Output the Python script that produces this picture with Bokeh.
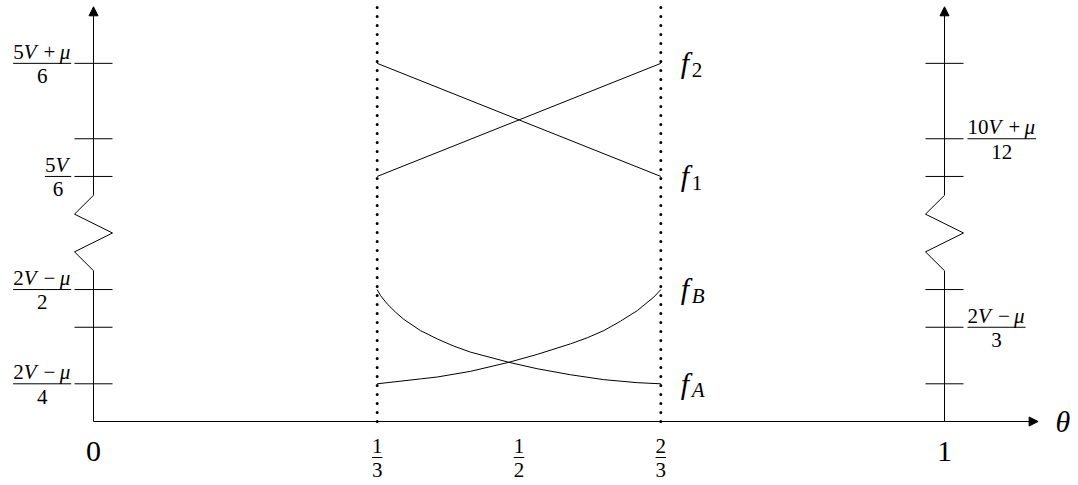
from bokeh.plotting import figure
from bokeh.models import Range1d, Arrow, NormalHead, ColumnDataSource
from bokeh.embed import file_html
from bokeh.resources import INLINE
from bokeh.core.properties import value, field

# ---------------- data ----------------
theta_marks = [0.0, 1/3, 1/2, 2/3, 1.0]
theta_num = ["0", "1", "1", "2", "1"]
theta_den = ["", "3", "2", "3", ""]
regime_bounds = [1/3, 2/3]
axis_theta = [0.0, 1.0]

tick_levels = [1.0, 2.5, 3.5, 6.5, 7.5, 9.5]
left_levels = [9.5, 6.5, 3.5, 1.0]
left_num = ["5V+μ", "5V", "2V−μ", "2V−μ"]
left_den = ["6", "6", "2", "4"]
right_levels = [7.5, 2.5]
right_num = ["10V+μ", "2V−μ"]
right_den = ["12", "3"]
break_levels = [4.0, 4.5, 5.0, 5.5, 6.0]
break_side = [0, -1, 1, -1, 0]
axis_top = 11.0
theta_end = 1.11

line_theta = [1/3, 2/3]
f1 = [9.5, 6.5]
f2 = [6.5, 9.5]
fA_theta = [0.3333, 0.3373, 0.3451, 0.3549, 0.3646, 0.3843, 0.4039, 0.4234,
            0.4430, 0.4880, 0.5214, 0.5605, 0.5996, 0.6389, 0.6667]
fA = [3.50, 3.34, 3.12, 2.90, 2.71, 2.41, 2.19, 2.00,
      1.84, 1.57, 1.40, 1.24, 1.11, 1.03, 1.00]
fB_theta = [0.3333, 0.3843, 0.4039, 0.4430, 0.4880, 0.5214, 0.5605, 0.5801,
            0.5996, 0.6192, 0.6389, 0.6584, 0.6667]
fB = [1.00, 1.13, 1.18, 1.33, 1.57, 1.78, 2.06, 2.22,
      2.41, 2.66, 2.94, 3.30, 3.50]
label_sub = ["2", "1", "B", "A"]
label_end = [f2[-1], f1[-1], fB[-1], fA[-1]]
axis_name = "θ"

# ---------------- layout ----------------
W, H = 1078, 485
SX, SY = 851.0, 37.7          # px per theta unit, px per level unit
X0, Y0 = 93.0, 421.0          # canvas px of the origin
FONT = "'Liberation Serif', 'DejaVu Serif', serif"
BIG, SMALL = 30, 21
TICK = 19.0                   # tick half length, px
BASE_FIX = 0.36               # raise text by this many em to sit on its baseline

p = figure(width=W, height=H, output_backend="svg", toolbar_location=None,
           x_range=Range1d(-X0 / SX, (W - X0) / SX),
           y_range=Range1d(-(H - Y0) / SY, Y0 / SY),
           x_axis_location=None, y_axis_location=None, min_border=0,
           background_fill_color="white", border_fill_color="white")
p.grid.visible = False
p.outline_line_color = None

def ddx(px):
    return px / SX

def ddy(px):
    return px / SY

EM = {"0": 0.5, "1": 0.5, "2": 0.5, "3": 0.5, "4": 0.5, "5": 0.5, "6": 0.5,
      "7": 0.5, "8": 0.5, "9": 0.5, "+": 0.564, "−": 0.564, "V": 0.611,
      "μ": 0.55, "f": 0.278, "A": 0.611, "B": 0.611, "θ": 0.5}
ITAL = set("VμfABθ")

texts = dict(x=[], y=[], text=[], size=[], style=[])
bars = dict(x0=[], x1=[], y=[])

def layout(expr, size):
    pieces, pos = [], 0.0
    for ch in expr:
        if ch in "+−":
            pos += 0.2 * size
            pieces.append((ch, "normal", pos))
            pos += EM[ch] * size + 0.2 * size
        else:
            pieces.append((ch, "italic" if ch in ITAL else "normal", pos))
            pos += EM[ch] * size
            if ch == "V":
                pos += 0.14 * size
    return pieces, pos

def put_expr(expr, x_left, y_base, size):
    pieces, _ = layout(expr, size)
    for ch, st, off in pieces:
        texts["x"].append(x_left + ddx(off))
        texts["y"].append(y_base + ddy(BASE_FIX * size))
        texts["text"].append(ch)
        texts["size"].append(f"{size}px")
        texts["style"].append(st)

def width(expr, size):
    return layout(expr, size)[1]

def fraction(num, den, xc, ybar, size=SMALL):
    wn, wd = width(num, size), width(den, size)
    w = max(wn, wd)
    bars["x0"].append(xc - ddx(w / 2))
    bars["x1"].append(xc + ddx(w / 2))
    bars["y"].append(ybar)
    put_expr(num, xc - ddx(wn / 2), ybar + ddy(4.0), size)
    put_expr(den, xc - ddx(wd / 2), ybar - ddy(20.4), size)
    return w

# dotted regime boundaries
for b in regime_bounds:
    p.line([b, b], [0, axis_top], line_color="black", line_width=3,
           line_dash="0 9", line_cap="round")

# vertical axes with break and arrows
for a in axis_theta:
    xs = [a, a] + [a + s * ddx(TICK) for s in break_side[1:]]
    ys = [0.0] + break_levels
    p.line(xs, ys, line_color="black", line_width=1)
    p.add_layout(Arrow(end=NormalHead(size=9, fill_color="black", line_color="black", line_width=1),
                       x_start=a, y_start=break_levels[-1], x_end=a, y_end=axis_top,
                       line_color="black", line_width=1))
    p.segment(x0=[a - ddx(TICK)] * len(tick_levels), x1=[a + ddx(TICK)] * len(tick_levels),
              y0=tick_levels, y1=tick_levels, line_color="black", line_width=1)

# horizontal axis
p.add_layout(Arrow(end=NormalHead(size=9, fill_color="black", line_color="black", line_width=1),
                   x_start=0.0, y_start=0.0, x_end=theta_end, y_end=0.0,
                   line_color="black", line_width=1))

# series
p.line(line_theta, f1, line_color="black", line_width=1)
p.line(line_theta, f2, line_color="black", line_width=1)
p.line(fA_theta, fA, line_color="black", line_width=1)
p.line(fB_theta, fB, line_color="black", line_width=1)

# left / right level labels
for lv, n, d in zip(left_levels, left_num, left_den):
    w = max(width(n, SMALL), width(d, SMALL))
    right_edge = axis_theta[0] - ddx(TICK + 3.3)
    fraction(n, d, right_edge - ddx(w / 2), lv)
for lv, n, d in zip(right_levels, right_num, right_den):
    w = max(width(n, SMALL), width(d, SMALL))
    left_edge = axis_theta[1] + ddx(TICK + 4.0)
    fraction(n, d, left_edge + ddx(w / 2), lv)

# theta labels
for t, n, d in zip(theta_marks, theta_num, theta_den):
    if d:
        fraction(n, d, t, -ddy(36.0))
    else:
        put_expr(n, t - ddx(width(n, BIG) / 2), -ddy(41.0), BIG)

# axis name
put_expr(axis_name, theta_end + ddx(25 - width(axis_name, BIG) / 2), -ddy(11.0), BIG)

# series labels
xl = line_theta[-1]
for sub, lv in zip(label_sub, label_end):
    put_expr("f", xl + ddx(20.0), lv - ddy(10.0), BIG)
    put_expr(sub, xl + ddx(31.0), lv - ddy(14.0), SMALL)

p.segment(x0="x0", x1="x1", y0="y", y1="y", source=ColumnDataSource(bars),
          line_color="black", line_width=1)
p.text(x="x", y="y", text="text", source=ColumnDataSource(texts),
       text_font=value(FONT), text_font_size=field("size"),
       text_font_style=field("style"), text_align="left",
       text_baseline="alphabetic", text_color="black")

open("out.html", "w").write(file_html(p, INLINE))
